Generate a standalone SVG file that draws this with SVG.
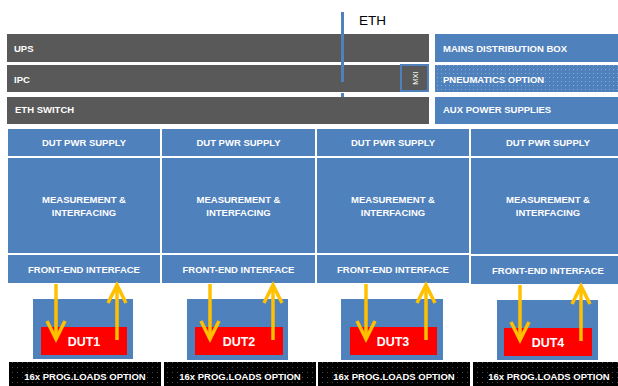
<svg xmlns="http://www.w3.org/2000/svg" width="618" height="386" viewBox="0 0 618 386">
<defs>
<style>
.gray{fill:#595959;}
.blue{fill:#4f81bd;stroke:#ffffff;stroke-width:1;}
.lbl{font-family:"Liberation Sans",Arial,sans-serif;font-weight:bold;font-size:9.5px;fill:#ffffff;}
.c{text-anchor:middle;}
.dut{font-family:"Liberation Sans",Arial,sans-serif;font-weight:bold;font-size:12.5px;fill:#ffffff;text-anchor:middle;}
.arr{fill:none;stroke:#ffc000;stroke-width:3.5;stroke-linejoin:miter;}
</style>
<pattern id="pn" width="4" height="4" patternUnits="userSpaceOnUse">
<rect width="4" height="4" fill="#4f81bd"/>
<rect x="1" y="1" width="1" height="1" fill="#8aaad6"/>
</pattern>
<pattern id="bk" width="5" height="5" patternUnits="userSpaceOnUse">
<rect width="5" height="5" fill="#000000"/>
<rect x="2" y="2" width="1" height="1" fill="#4a4a4a"/>
</pattern>
</defs>
<rect width="618" height="386" fill="#ffffff"/>

<g id="ups"><rect class="gray" x="7" y="34" width="422" height="28"/><text class="lbl" x="14" y="52">UPS</text></g>
<g id="ipc"><rect class="gray" x="7" y="65" width="422" height="27"/><text class="lbl" x="14" y="83">IPC</text></g>
<g id="eth-switch"><rect class="gray" x="7" y="97" width="422" height="27"/><text class="lbl" x="15" y="113">ETH SWITCH</text></g>
<g id="mxi"><rect x="401" y="65" width="27" height="26" fill="#595959" stroke="#4f81bd" stroke-width="2"/><text transform="translate(417.5,78) rotate(-90)" font-family="Liberation Sans,Arial,sans-serif" font-size="7.5" fill="#ffffff" text-anchor="middle">MXI</text></g>

<g id="mains"><rect fill="#4f81bd" x="435" y="34" width="183" height="28"/><text class="lbl" x="443" y="52">MAINS DISTRIBUTION BOX</text></g>
<g id="pneumatics"><rect fill="url(#pn)" x="435" y="65" width="183" height="27"/><text class="lbl" x="443" y="83">PNEUMATICS OPTION</text></g>
<g id="aux"><rect fill="#4f81bd" x="435" y="97" width="183" height="27"/><text class="lbl" x="443" y="113">AUX POWER SUPPLIES</text></g>

<g id="col1">
<rect class="blue" x="7.5" y="128.5" width="153" height="28"/><text class="lbl c" x="84" y="146">DUT PWR SUPPLY</text>
<rect class="blue" x="7.5" y="157.5" width="153" height="96"/><text class="lbl c" x="84" y="203">MEASUREMENT &amp;</text><text class="lbl c" x="84" y="216">INTERFACING</text>
<rect class="blue" x="7.5" y="254.5" width="153" height="29"/><text class="lbl c" x="84" y="273">FRONT-END INTERFACE</text>
</g>
<g id="col2">
<rect class="blue" x="161.5" y="128.5" width="154" height="28"/><text class="lbl c" x="238.5" y="146">DUT PWR SUPPLY</text>
<rect class="blue" x="161.5" y="157.5" width="154" height="96"/><text class="lbl c" x="238.5" y="203">MEASUREMENT &amp;</text><text class="lbl c" x="238.5" y="216">INTERFACING</text>
<rect class="blue" x="161.5" y="254.5" width="154" height="29"/><text class="lbl c" x="238.5" y="273">FRONT-END INTERFACE</text>
</g>
<g id="col3">
<rect class="blue" x="316.5" y="128.5" width="153" height="28"/><text class="lbl c" x="393" y="146">DUT PWR SUPPLY</text>
<rect class="blue" x="316.5" y="157.5" width="153" height="96"/><text class="lbl c" x="393" y="203">MEASUREMENT &amp;</text><text class="lbl c" x="393" y="216">INTERFACING</text>
<rect class="blue" x="316.5" y="254.5" width="153" height="29"/><text class="lbl c" x="393" y="273">FRONT-END INTERFACE</text>
</g>
<g id="col4">
<rect class="blue" x="470.5" y="128.5" width="154" height="28"/><text class="lbl c" x="548" y="146">DUT PWR SUPPLY</text>
<rect class="blue" x="470.5" y="157.5" width="154" height="97"/><text class="lbl c" x="548" y="203">MEASUREMENT &amp;</text><text class="lbl c" x="548" y="216">INTERFACING</text>
<rect class="blue" x="470.5" y="255.5" width="154" height="29"/><text class="lbl c" x="548" y="274">FRONT-END INTERFACE</text>
</g>

<g id="dut1"><rect fill="#4f81bd" x="33" y="299" width="100" height="60"/><rect fill="#ff0000" x="41" y="327" width="86" height="28"/><text class="dut" x="84" y="346">DUT1</text></g>
<g id="dut2"><rect fill="#4f81bd" x="187" y="299" width="101" height="61"/><rect fill="#ff0000" x="195" y="327" width="88" height="28"/><text class="dut" x="239" y="346">DUT2</text></g>
<g id="dut3"><rect fill="#4f81bd" x="341" y="299" width="102" height="61"/><rect fill="#ff0000" x="350" y="327" width="87" height="28"/><text class="dut" x="393" y="346">DUT3</text></g>
<g id="dut4"><rect fill="#4f81bd" x="497" y="300" width="101" height="60"/><rect fill="#ff0000" x="504" y="328" width="88" height="28"/><text class="dut" x="548" y="347">DUT4</text></g>

<g id="loads1"><rect fill="url(#bk)" x="9" y="362" width="152" height="24"/><text class="lbl c" x="85" y="380">16x PROG.LOADS OPTION</text></g>
<g id="loads2"><rect fill="url(#bk)" x="164" y="362" width="152" height="24"/><text class="lbl c" x="240" y="380">16x PROG.LOADS OPTION</text></g>
<g id="loads3"><rect fill="url(#bk)" x="318" y="362" width="152" height="24"/><text class="lbl c" x="394" y="380">16x PROG.LOADS OPTION</text></g>
<g id="loads4"><rect fill="url(#bk)" x="473" y="362" width="147" height="24"/><text class="lbl c" x="549" y="380">16x PROG.LOADS OPTION</text></g>

<g id="eth"><text x="359" y="25" font-family="Liberation Sans,Arial,sans-serif" font-size="13.5" fill="#000000">ETH</text></g>

<g id="connectors">
<line x1="342.5" y1="12" x2="342.5" y2="82" stroke="#4f81bd" stroke-width="3"/>
<line x1="342.5" y1="93" x2="342.5" y2="97" stroke="#4f81bd" stroke-width="3"/>
<g class="arr">
<line x1="56" y1="284" x2="56" y2="338"/><polyline points="47,321 56,339 65,321"/>
<line x1="117" y1="340" x2="117" y2="287"/><polyline points="108,303 117,285 126,303"/>
<line x1="210" y1="284" x2="210" y2="338"/><polyline points="201,321 210,339 219,321"/>
<line x1="273" y1="340" x2="273" y2="287"/><polyline points="264,303 273,285 282,303"/>
<line x1="366" y1="284" x2="366" y2="338"/><polyline points="357,321 366,339 375,321"/>
<line x1="426" y1="340" x2="426" y2="287"/><polyline points="417,303 426,285 435,303"/>
<line x1="520" y1="285" x2="520" y2="339"/><polyline points="511,322 520,340 529,322"/>
<line x1="581" y1="341" x2="581" y2="288"/><polyline points="572,304 581,286 590,304"/>
</g>
</g>
</svg>
